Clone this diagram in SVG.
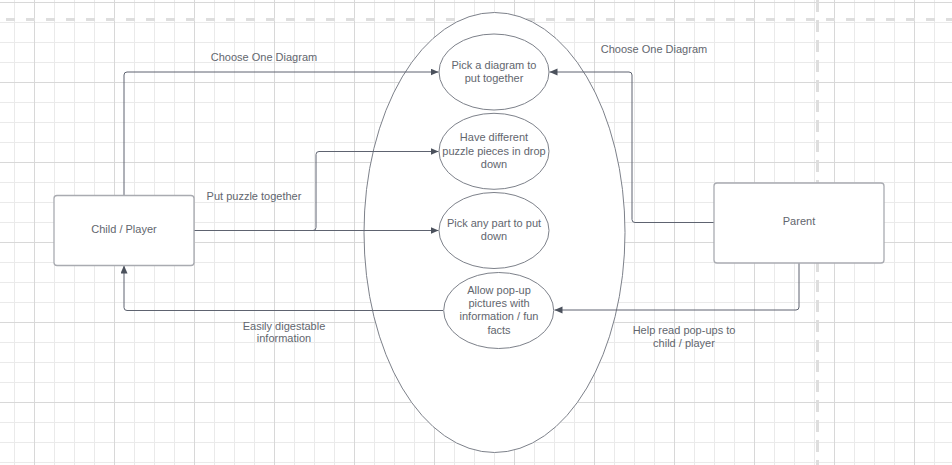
<svg xmlns="http://www.w3.org/2000/svg" width="952" height="465" viewBox="0 0 952 465">
<style>
text{font-family:"Liberation Sans",Arial,sans-serif;font-size:11px;fill:#62666e;text-anchor:middle}
.box{fill:#ffffff;stroke:#a9abb1;stroke-width:1.3}
.ell{fill:#ffffff;stroke:#7d818a;stroke-width:1}
.con{fill:none;stroke:#5e6370;stroke-width:1}
.dash{stroke:#dedede;stroke-width:3;stroke-dasharray:9 11}
</style>
<defs>
<pattern id="minor" patternUnits="userSpaceOnUse" x="14" y="2" width="20" height="20">
<rect x="0" y="0" width="1" height="20" fill="#eaeaea"/>
<rect x="0" y="0" width="20" height="1" fill="#eaeaea"/>
</pattern>
<pattern id="major" patternUnits="userSpaceOnUse" x="34" y="2" width="80" height="80">
<rect x="0" y="0" width="1" height="80" fill="#d8d8d8"/>
<rect x="0" y="0" width="80" height="1" fill="#d8d8d8"/>
</pattern>
<marker id="arr" markerUnits="userSpaceOnUse" markerWidth="9" markerHeight="8" refX="8" refY="3.5" orient="auto">
<path d="M0,0 L8,3.5 L0,7 z" fill="#4b515c"/>
</marker>
</defs>
<rect width="952" height="465" fill="#ffffff"/>
<rect width="952" height="465" fill="url(#minor)"/>
<rect width="952" height="465" fill="url(#major)"/>
<line class="dash" x1="6" y1="19.5" x2="952" y2="19.5"/>
<line class="dash" x1="817.5" y1="0" x2="817.5" y2="465" style="stroke-dasharray:12 8"/>

<g id="system">
<ellipse class="ell" cx="494.5" cy="232.5" rx="130.5" ry="220"/>
</g>

<g id="connectors">
<path class="con" d="M124,195 V75 Q124,72 127,72 H438.5" marker-end="url(#arr)"/>
<path class="con" d="M194,230.5 H313 Q316,230.5 316,227.5 V154.5 Q316,151.5 319,151.5 H438.5" marker-end="url(#arr)"/>
<path class="con" d="M194,230.5 H438.5" marker-end="url(#arr)"/>
<path class="con" d="M443,310.5 H127 Q124,310.5 124,307.5 V265.5" marker-end="url(#arr)"/>
<path class="con" d="M714,222.5 H635 Q632,222.5 632,219.5 V75 Q632,72 629,72 H549.5" marker-end="url(#arr)"/>
<path class="con" d="M799,263 V307 Q799,310 796,310 H554.5" marker-end="url(#arr)"/>
</g>

<g id="uc1">
<ellipse class="ell" cx="494" cy="72" rx="55" ry="38"/>
<text x="494" y="69">Pick a diagram to</text>
<text x="494" y="82.3">put together</text>
</g>
<g id="uc2">
<ellipse class="ell" cx="494" cy="151.3" rx="55" ry="38"/>
<text x="494" y="141">Have different</text>
<text x="494" y="154.7">puzzle pieces in drop</text>
<text x="494" y="167.7">down</text>
</g>
<g id="uc3">
<ellipse class="ell" cx="494" cy="230.5" rx="55" ry="38"/>
<text x="494" y="227">Pick any part to put</text>
<text x="494" y="240">down</text>
</g>
<g id="uc4">
<ellipse class="ell" cx="498.7" cy="310.5" rx="55" ry="38"/>
<text x="499" y="293.7">Allow pop-up</text>
<text x="499" y="307">pictures with</text>
<text x="499" y="320.3">information / fun</text>
<text x="499" y="333.7">facts</text>
</g>

<g id="child">
<rect class="box" x="54" y="195.5" width="140" height="70" rx="3"/>
<text x="124" y="232.8">Child / Player</text>
</g>
<g id="parent">
<rect class="box" x="714" y="183" width="170" height="80" rx="3"/>
<text x="799" y="225">Parent</text>
</g>

<g id="labels">
<text x="264" y="60.7">Choose One Diagram</text>
<text x="654" y="52.8">Choose One Diagram</text>
<text x="254" y="200.2">Put puzzle together</text>
<text x="284" y="329.6">Easily digestable</text>
<text x="284" y="342.2">information</text>
<text x="684" y="334">Help read pop-ups to</text>
<text x="684" y="347.3">child / player</text>
</g>
</svg>
